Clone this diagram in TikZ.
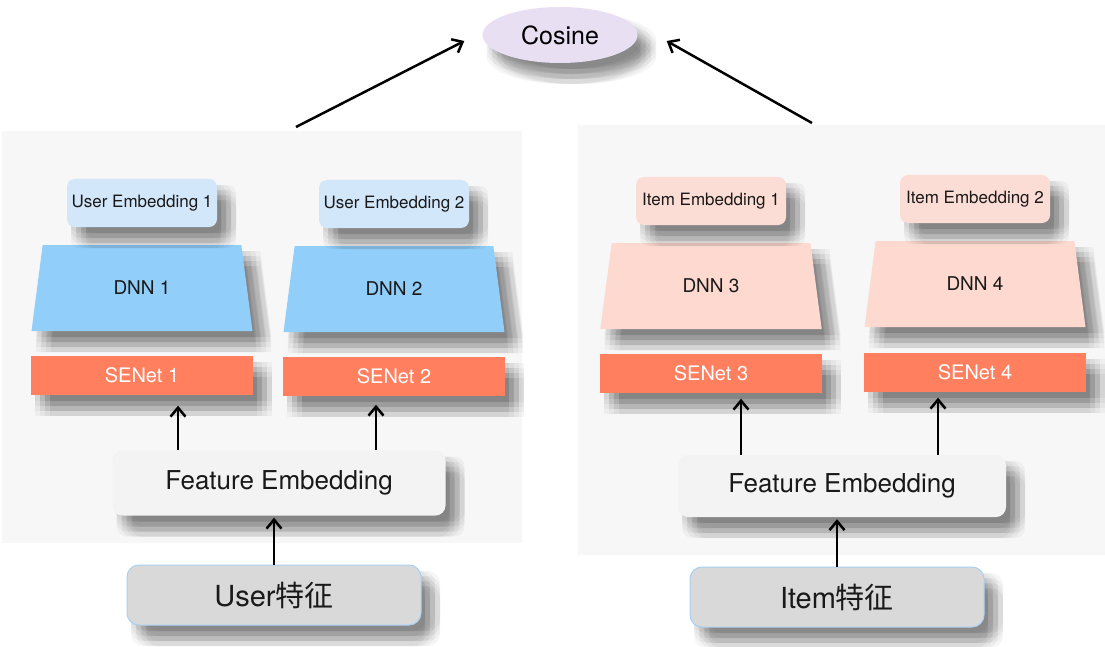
\documentclass[tikz,border=0pt]{standalone}
\usepackage{fontspec}
\setmainfont{TeX Gyre Heros}
\newfontfamily\cjkfont{Noto Sans CJK SC}
\usetikzlibrary{positioning,shapes.geometric,arrows.meta,shadows}

\definecolor{panelgray}{HTML}{F7F7F7}
\definecolor{embblue}{HTML}{D3E7FB}
\definecolor{dnnblue}{HTML}{92CEFA}
\definecolor{embpink}{HTML}{FCDDD5}
\definecolor{dnnpink}{HTML}{FDD9CF}
\definecolor{senetred}{HTML}{FF7F5E}
\definecolor{fegray}{HTML}{F3F3F3}
\definecolor{rawgray}{HTML}{D9D9D9}
\definecolor{rawedge}{HTML}{A9D0F3}
\definecolor{cosfill}{HTML}{E9DFF3}

\begin{document}
\begin{tikzpicture}[x=1pt,y=-1pt,>={Straight Barb[length=9pt,width=15pt]},auto]
	\tikzstyle{shbase}=[fill=black,draw=none,opacity=.037]
	\tikzstyle{softshadow}=[general shadow={shbase,shadow xshift=4pt,shadow yshift=-6pt},
	                        general shadow={shbase,shadow xshift=9pt,shadow yshift=-6pt},
	                        general shadow={shbase,shadow xshift=14pt,shadow yshift=-6pt},
	                        general shadow={shbase,shadow xshift=19pt,shadow yshift=-6pt},
	                        general shadow={shbase,shadow xshift=4pt,shadow yshift=-11pt},
	                        general shadow={shbase,shadow xshift=9pt,shadow yshift=-11pt},
	                        general shadow={shbase,shadow xshift=14pt,shadow yshift=-11pt},
	                        general shadow={shbase,shadow xshift=19pt,shadow yshift=-11pt},
	                        general shadow={shbase,shadow xshift=4pt,shadow yshift=-16pt},
	                        general shadow={shbase,shadow xshift=9pt,shadow yshift=-16pt},
	                        general shadow={shbase,shadow xshift=14pt,shadow yshift=-16pt},
	                        general shadow={shbase,shadow xshift=19pt,shadow yshift=-16pt},
	                        general shadow={shbase,shadow xshift=4pt,shadow yshift=-21pt},
	                        general shadow={shbase,shadow xshift=9pt,shadow yshift=-21pt},
	                        general shadow={shbase,shadow xshift=14pt,shadow yshift=-21pt},
	                        general shadow={shbase,shadow xshift=19pt,shadow yshift=-21pt}]
	\tikzstyle{emb}=[softshadow,rounded corners=8pt,minimum width=150pt,minimum height=48pt,inner sep=0pt,text=black!90,font=\fontsize{17}{20}\selectfont]
	\tikzstyle{dnn}=[softshadow,trapezium,trapezium angle=77,trapezium stretches=true,minimum width=222pt,minimum height=86pt,inner sep=0pt,text=black!90,font=\fontsize{19}{22}\selectfont]
	\tikzstyle{senet}=[softshadow,fill=senetred,text=white,minimum width=222pt,minimum height=39pt,inner sep=0pt,font=\fontsize{20}{24}\selectfont]
	\tikzstyle{feat}=[softshadow,fill=fegray,rounded corners=10pt,inner sep=0pt,text=black!90,font=\fontsize{26}{30}\selectfont]
	\tikzstyle{rawfeat}=[softshadow,fill=rawgray,draw=rawedge,line width=1pt,rounded corners=12pt,minimum width=294pt,minimum height=60pt,inner sep=0pt,text=black!90,font=\fontsize{29}{34}\selectfont]
	\tikzstyle{link}=[->,line width=2.5pt,black]
	\useasboundingbox[fill=white] (0,0) rectangle (1105,647);
	% panels
	\fill[panelgray] (2,131) rectangle (522,543);
	\fill[panelgray] (578,125) rectangle (1105,555);
	\node[ellipse,softshadow,fill=cosfill,minimum width=155pt,minimum height=56pt,inner sep=0pt,font=\fontsize{25}{30}\selectfont] (cos) at (560,35) {Cosine};
	% user tower
	\node[senet]               (se1) at (142,375)                      {SENet 1};
	\node[dnn,fill=dnnblue]    (dnn1)[above of=se1,node distance=87pt]  {DNN 1};
	\node[emb,fill=embblue]    (ue1)[above of=dnn1,node distance=85pt]  {User Embedding 1};
	\node[senet]               (se2) at (394,376)                      {SENet 2};
	\node[dnn,fill=dnnblue]    (dnn2)[above of=se2,node distance=87pt]  {DNN 2};
	\node[emb,fill=embblue]    (ue2)[above of=dnn2,node distance=85pt]  {User Embedding 2};
	\node[feat,minimum width=333pt,minimum height=65pt] (fe1) at (279,483) {Feature Embedding};
	\node[rawfeat]             (uf) at (274,595)                       {User{\cjkfont 特征}};
	% item tower
	\node[senet]               (se3) at (711,373)                      {SENet 3};
	\node[dnn,fill=dnnpink]    (dnn3)[above of=se3,node distance=87pt]  {DNN 3};
	\node[emb,fill=embpink]    (ie1)[above of=dnn3,node distance=85pt]  {Item Embedding 1};
	\node[senet]               (se4) at (975,372)                      {SENet 4};
	\node[dnn,fill=dnnpink]    (dnn4)[above of=se4,node distance=88pt]  {DNN 4};
	\node[emb,fill=embpink]    (ie2)[above of=dnn4,node distance=85pt]  {Item Embedding 2};
	\node[feat,minimum width=328pt,minimum height=62pt] (fe2) at (842,486) {Feature Embedding};
	\node[rawfeat]             (itf) at (837,597)                      {Item{\cjkfont 特征}};
	% arrow columns and tops
	\coordinate (a1) at (178,0);
	\coordinate (a2) at (376,0);
	\coordinate (a3) at (741,0);
	\coordinate (a4) at (938,0);
	\coordinate (ut) at (296,127);
	\coordinate (it) at (812,123);
	\path
	(fe1.north -| a1) edge[link,shorten >=11pt] (se1.south -| a1)
	(fe1.north -| a2) edge[link,shorten >=9pt]  (se2.south -| a2)
	(fe2.north -| a3) edge[link,shorten >=6pt]  (se3.south -| a3)
	(fe2.north -| a4) edge[link,shorten >=6pt]  (se4.south -| a4)
	(uf.north) edge[link,shorten >=2pt] (fe1.south -| uf.north)
	(itf.north) edge[link,shorten >=2pt] (fe2.south -| itf.north)
	(ut) edge[link] ([shift={(-18,6)}]cos.west)
	(it) edge[link] ([shift={(29,6)}]cos.east);
\end{tikzpicture}
\end{document}
